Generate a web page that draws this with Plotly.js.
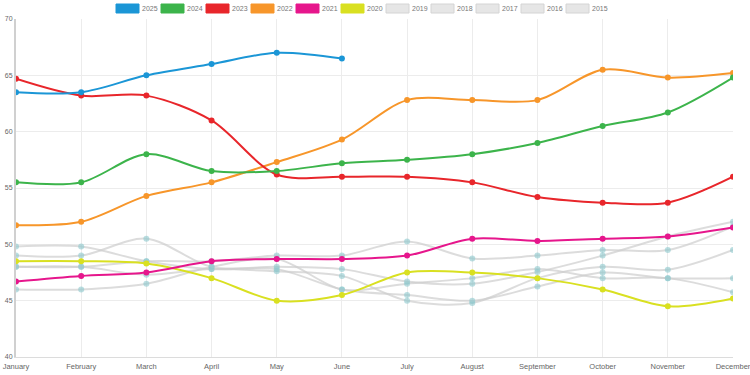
<!DOCTYPE html>
<html>
<head>
<meta charset="utf-8">
<script src="https://cdn.plot.ly/plotly-3.0.1.min.js"></script>
<style>html,body{margin:0;padding:0;background:#fff;}#chart{width:750px;height:375px;}</style>
</head>
<body>
<div id="chart"></div>
<script>
var months = ["January","February","March","April","May","June","July","August","September","October","November","December"];
var yTicks = [40,45,50,55,60,65,70];

var y2025 = [63.5, 63.5, 65.0, 66.0, 67.0, 66.5];
var y2024 = [55.5, 55.5, 58.0, 56.5, 56.5, 57.2, 57.5, 58.0, 59.0, 60.5, 61.7, 64.8];
var y2023 = [64.7, 63.2, 63.2, 61.0, 56.2, 56.0, 56.0, 55.5, 54.2, 53.7, 53.7, 56.0];
var y2022 = [51.7, 52.0, 54.3, 55.5, 57.3, 59.3, 62.8, 62.8, 62.8, 65.5, 64.8, 65.2];
var y2021 = [46.7, 47.2, 47.5, 48.5, 48.7, 48.7, 49.0, 50.5, 50.3, 50.5, 50.7, 51.5];
var y2020 = [48.5, 48.5, 48.3, 47.0, 45.0, 45.5, 47.5, 47.5, 47.0, 46.0, 44.5, 45.2];
var y2019 = [48.0, 48.0, 48.5, 48.5, 49.0, 49.0, 50.25, 48.75, 49.0, 49.5, 49.5, 51.6];
var y2018 = [49.0, 49.0, 50.5, 48.0, 48.0, 47.8, 46.7, 46.5, 47.55, 49.0, 50.7, 52.0];
var y2017 = [49.8, 49.8, 48.5, 47.8, 47.8, 46.0, 45.5, 45.0, 46.25, 47.5, 47.0, 47.0];
var y2016 = [48.0, 48.0, 47.3, 47.8, 47.6, 47.2, 45.0, 44.8, 47.0, 48.0, 47.75, 49.5];
var y2015 = [46.0, 46.0, 46.5, 48.0, 48.7, 46.0, 46.5, 47.0, 47.8, 47.0, 47.0, 45.75];

var seriesNames = ["2025","2024","2023","2022","2021","2020","2019","2018","2017","2016","2015"];
var seriesData = [y2025, y2024, y2023, y2022, y2021, y2020, y2019, y2018, y2017, y2016, y2015];
var seriesColors = ["#1b96d6","#3cb44b","#e8262b","#f7962a","#e6168c","#d9e021",null,null,null,null,null];

var traces = [];
for (var i = seriesNames.length - 1; i >= 0; i--) {
  var col = seriesColors[i];
  var grey = !col;
  traces.push({
    type: "scatter",
    mode: "lines+markers",
    name: seriesNames[i],
    x: months.slice(0, seriesData[i].length),
    y: seriesData[i],
    line: {shape: "spline", smoothing: 0.9, width: 2, color: grey ? "rgba(205,205,205,0.7)" : col},
    marker: {size: 6, color: grey ? "rgba(140,200,205,0.6)" : col},
    showlegend: false,
    hoverinfo: "x+y+name"
  });
}

// legend drawn as boxes + labels
var shapes = [];
var annotations = [];
var legStart = 116, legStep = 45, boxW = 23;
for (var j = 0; j < seriesNames.length; j++) {
  var c = seriesColors[j];
  var x0 = legStart + j * legStep;
  shapes.push({
    type: "rect", xref: "paper", yref: "paper",
    x0: (x0 - 16) / 717, x1: (x0 + boxW - 16) / 717,
    y0: (357 - 13) / 338, y1: (357 - 4) / 338,
    fillcolor: c ? c : "#e6e6e6",
    line: {color: c ? c : "#d4d4d4", width: 1}
  });
  annotations.push({
    xref: "paper", yref: "paper",
    x: (x0 + boxW + 2 - 16) / 717, y: (357 - 8.5) / 338,
    xanchor: "left", yanchor: "middle", borderpad: 0,
    text: seriesNames[j], showarrow: false,
    font: {family: "Liberation Sans, Arial, sans-serif", size: 7, color: "#777"}
  });
}

var layout = {
  width: 750, height: 375,
  margin: {l: 16, r: 17, t: 19, b: 18, pad: 0},
  paper_bgcolor: "#fff", plot_bgcolor: "#fff",
  showlegend: false,
  font: {family: "Liberation Sans, Arial, sans-serif", size: 7.5, color: "#666"},
  xaxis: {
    type: "category", categoryarray: months, range: [0, 11],
    showgrid: true, gridcolor: "#ececec", gridwidth: 1,
    showline: true, linecolor: "#dcdcdc", linewidth: 1,
    zeroline: false, ticks: "", automargin: false, ticklabelstandoff: 2,
    tickfont: {size: 7.5, color: "#666"}
  },
  yaxis: {
    range: [40, 70], tickvals: yTicks,
    showgrid: true, gridcolor: "#ececec", gridwidth: 1,
    showline: true, linecolor: "#d0d0d0", linewidth: 2,
    zeroline: false, ticks: "", automargin: false,
    tickfont: {size: 7, color: "#666"}
  },
  shapes: shapes,
  annotations: annotations
};

Plotly.newPlot("chart", traces, layout, {displayModeBar: false, responsive: false});
</script>
</body>
</html>
